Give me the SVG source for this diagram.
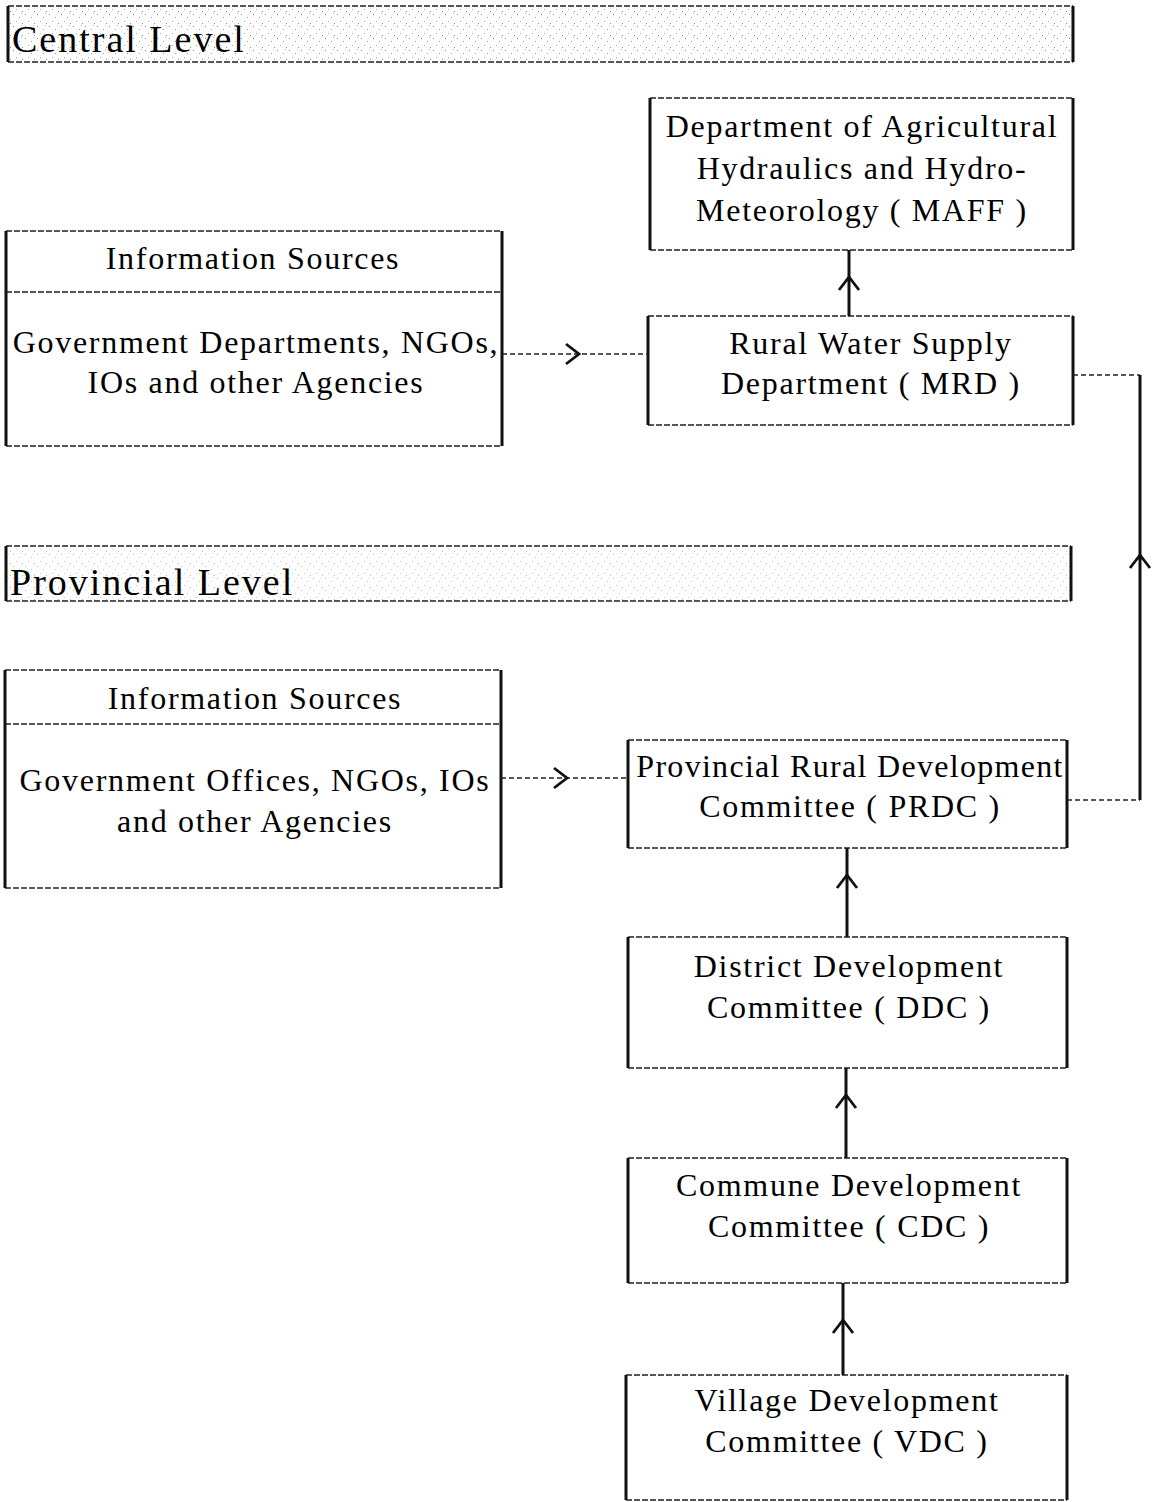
<svg xmlns="http://www.w3.org/2000/svg" width="1157" height="1502" viewBox="0 0 1157 1502">
  <style>
    .t { font-family: "Liberation Serif", "Times New Roman", serif; font-size: 32px; letter-spacing: 1.7px; fill: #000; }
    .band-t { font-family: "Liberation Serif", "Times New Roman", serif; font-size: 38px; letter-spacing: 2px; fill: #000; }
    .hz { stroke: #222; stroke-width: 1.6; stroke-dasharray: 6 2; fill: none; }
    .vt { stroke: #111; stroke-width: 3; fill: none; }
    .solid { stroke: #111; stroke-width: 3; fill: none; }
    .dash { stroke: #222; stroke-width: 1.5; stroke-dasharray: 5 3; fill: none; }
  </style>
  <defs>
    <pattern id="grain" width="12" height="12" patternUnits="userSpaceOnUse">
      <rect x="1" y="2" width="1" height="1" fill="#888"/>
      <rect x="7" y="5" width="1" height="1" fill="#999"/>
      <rect x="4" y="9" width="1" height="1" fill="#aaa"/>
      <rect x="10" y="11" width="1" height="1" fill="#888"/>
      <rect x="9" y="1" width="1" height="1" fill="#bbb"/>
    </pattern>
    <marker id="chev" viewBox="-16 -16 32 32" markerWidth="32" markerHeight="32" refX="0" refY="0" orient="auto" markerUnits="userSpaceOnUse">
      <path d="M -12 -10 L 1 0 L -12 10" fill="none" stroke="#111" stroke-width="2.8"/>
    </marker>
  </defs>

  <rect width="1157" height="1502" fill="#fff"/>

  <!-- Level bands -->
  <g id="band-central">
    <rect x="8" y="6" width="1065" height="56" fill="url(#grain)"/>
    <path class="hz" d="M8 6 H1073 M8 62 H1073"/>
    <path class="vt" d="M8 6 V62 M1073 6 V62"/>
    <text class="band-t" x="12" y="52">Central Level</text>
  </g>
  <g id="band-provincial">
    <rect x="6" y="546" width="1065" height="55" fill="url(#grain)" opacity="0.6"/>
    <path class="hz" d="M6 546 H1071 M6 601 H1071"/>
    <path class="vt" d="M6 546 V601 M1071 546 V601"/>
    <text class="band-t" x="10" y="595">Provincial Level</text>
  </g>

  <!-- Central level nodes -->
  <g id="maff">
    <path class="hz" d="M650 98 H1073 M650 250 H1073"/>
    <path class="vt" d="M650 98 V250 M1073 98 V250"/>
    <text class="t" x="862" y="137" text-anchor="middle">Department of  Agricultural</text>
    <text class="t" x="862" y="179" text-anchor="middle">Hydraulics and Hydro-</text>
    <text class="t" x="862" y="221" text-anchor="middle">Meteorology ( MAFF )</text>
  </g>
  <g id="info-central">
    <path class="hz" d="M6 231 H502 M6 292 H502 M6 446 H502"/>
    <path class="vt" d="M6 231 V446 M502 231 V446"/>
    <text class="t" x="253" y="269" text-anchor="middle">Information  Sources</text>
    <text class="t" x="256" y="353" text-anchor="middle">Government Departments, NGOs,</text>
    <text class="t" x="256" y="393" text-anchor="middle">IOs and other Agencies</text>
  </g>
  <g id="mrd">
    <path class="hz" d="M648 316 H1073 M648 425 H1073"/>
    <path class="vt" d="M648 316 V425 M1073 316 V425"/>
    <text class="t" x="871" y="354" text-anchor="middle">Rural Water Supply</text>
    <text class="t" x="871" y="394" text-anchor="middle">Department ( MRD )</text>
  </g>

  <!-- Provincial level nodes -->
  <g id="info-provincial">
    <path class="hz" d="M5 670 H501 M5 724 H501 M5 888 H501"/>
    <path class="vt" d="M5 670 V888 M501 670 V888"/>
    <text class="t" x="255" y="709" text-anchor="middle">Information  Sources</text>
    <text class="t" x="255" y="791" text-anchor="middle">Government Offices, NGOs, IOs</text>
    <text class="t" x="255" y="832" text-anchor="middle">and other Agencies</text>
  </g>
  <g id="prdc">
    <path class="hz" d="M628 740 H1067 M628 848 H1067"/>
    <path class="vt" d="M628 740 V848 M1067 740 V848"/>
    <text class="t" x="850" y="777" text-anchor="middle" style="letter-spacing:1.3px">Provincial Rural Development</text>
    <text class="t" x="850" y="817" text-anchor="middle">Committee ( PRDC )</text>
  </g>
  <g id="ddc">
    <path class="hz" d="M628 937 H1067 M628 1068 H1067"/>
    <path class="vt" d="M628 937 V1068 M1067 937 V1068"/>
    <text class="t" x="849" y="977" text-anchor="middle">District Development</text>
    <text class="t" x="849" y="1018" text-anchor="middle">Committee ( DDC )</text>
  </g>
  <g id="cdc">
    <path class="hz" d="M628 1158 H1067 M628 1283 H1067"/>
    <path class="vt" d="M628 1158 V1283 M1067 1158 V1283"/>
    <text class="t" x="849" y="1196" text-anchor="middle">Commune Development</text>
    <text class="t" x="849" y="1237" text-anchor="middle">Committee ( CDC )</text>
  </g>
  <g id="vdc">
    <path class="hz" d="M626 1375 H1067 M626 1500 H1067"/>
    <path class="vt" d="M626 1375 V1500 M1067 1375 V1500"/>
    <text class="t" x="847" y="1411" text-anchor="middle">Village Development</text>
    <text class="t" x="847" y="1452" text-anchor="middle">Committee ( VDC )</text>
  </g>

  <!-- Connectors: chevrons sit at the midpoint vertex of each path -->
  <g id="connectors">
    <path class="solid" d="M849 316 L849 278 L849 250" marker-mid="url(#chev)"/>
    <path class="dash" d="M502 354 L578 354 L648 354" marker-mid="url(#chev)"/>
    <path class="dash" d="M1073 375 H1140"/>
    <path class="solid" d="M1140 375 V560"/>
    <path class="solid" d="M1140 800 L1140 556" marker-end="url(#chev)"/>
    <path class="dash" d="M1067 800 H1140"/>
    <path class="dash" d="M501 778 L566 778 L628 778" marker-mid="url(#chev)"/>
    <path class="solid" d="M847 937 L847 876 L847 848" marker-mid="url(#chev)"/>
    <path class="solid" d="M846 1158 L846 1096 L846 1068" marker-mid="url(#chev)"/>
    <path class="solid" d="M843 1375 L843 1321 L843 1283" marker-mid="url(#chev)"/>
  </g>
</svg>
